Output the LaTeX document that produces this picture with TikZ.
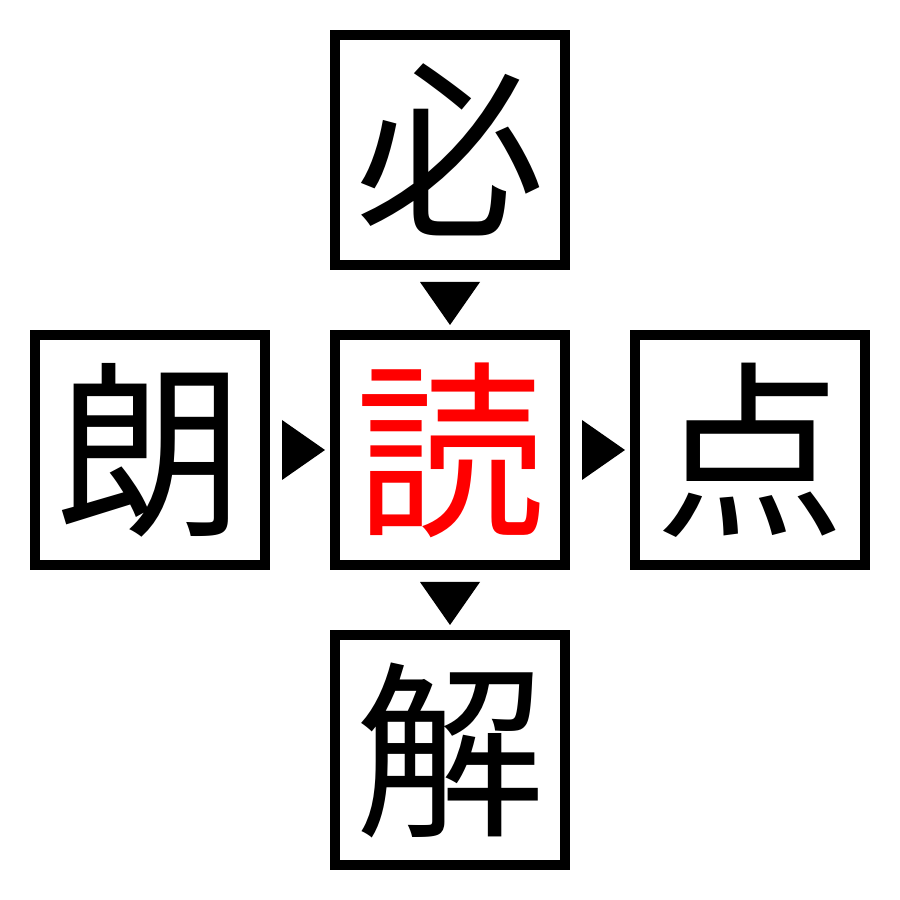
\documentclass[tikz,border=0pt]{standalone}
\usepackage{fontspec}
\newfontfamily\cjk{Noto Sans CJK JP}
\usetikzlibrary{positioning,decorations.markings}

\begin{document}
\begin{tikzpicture}[
    box/.style={
        draw,
        line width=1mm,
        minimum size=23mm,
        inner sep=0pt,
        font=\cjk\fontsize{54}{54}\selectfont
    },
    pointer/.style={
        decorate,
        decoration={markings, mark=at position 0.5 with {
            \fill (-1.8mm,3mm) -- (2.5mm,0) -- (-1.8mm,-3mm) -- cycle;}}
    },
    node distance=30mm, on grid
    ]

    \useasboundingbox (0,0) rectangle (9,9);

    \node[box, text=red] (kanji_c) at (4.5,4.5) {読};
    \node[box, above=of kanji_c] (kanji_t) {必};
    \node[box, left=of kanji_c] (kanji_l) {朗};
    \node[box, right=of kanji_c] (kanji_r) {点};
    \node[box, below=of kanji_c] (kanji_b) {解};

    \path[pointer] (kanji_t) -- (kanji_c);
    \path[pointer] (kanji_l) -- (kanji_c);
    \path[pointer] (kanji_c) -- (kanji_r);
    \path[pointer] (kanji_c) -- (kanji_b);
\end{tikzpicture}
\end{document}
